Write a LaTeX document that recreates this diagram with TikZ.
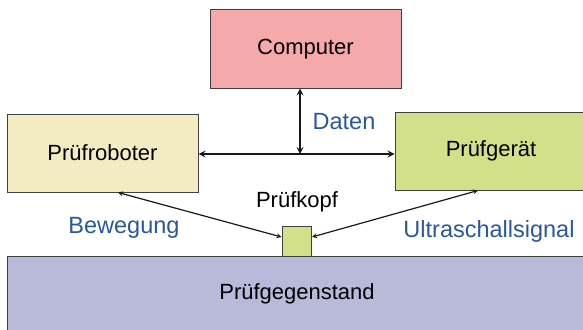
\documentclass[tikz,border=0pt]{standalone}
\usepackage{fontspec}
\setmainfont{Liberation Sans}
\usetikzlibrary{arrows,positioning}
\definecolor{compfill}{HTML}{F5A9AB}
\definecolor{robofill}{HTML}{F3ECC2}
\definecolor{greenfill}{HTML}{D3E08A}
\definecolor{objfill}{HTML}{B9B9DA}
\definecolor{edgegray}{HTML}{404040}
\definecolor{labelblue}{HTML}{2A58A0}
\begin{document}
\begin{tikzpicture}[
    x=1pt,y=-1pt,
    box/.style={rectangle,draw=edgegray,line width=1pt,align=center,inner sep=0pt,font=\fontsize{22}{26}\selectfont},
    lbl/.style={text=labelblue,inner sep=0pt,font=\fontsize{23.5}{28}\selectfont},
    arrow/.style={line width=2pt,<->,>=stealth,draw=black!90},
    thinarrow/.style={line width=1.2pt,<->,>=stealth,draw=black!90}
]
    \clip (0,0) rectangle (583,329);
    \fill[white] (0,0) rectangle (583,329);

    \node[box,fill=compfill,minimum width=191pt,minimum height=78pt] (computer) at (305.5,49) {Computer};
    \node[box,fill=robofill,minimum width=191pt,minimum height=78pt] (roboter) at (102.5,153) {Prüfroboter};
    \node[box,fill=greenfill,minimum width=192pt,minimum height=78pt] (geraet) at (491,151) {Prüfgerät};
    \node[box,fill=objfill,minimum width=580pt,minimum height=76pt] (objekt) at (297,294) {Prüfgegenstand};
    \node[box,fill=greenfill,minimum width=29.5pt,minimum height=30pt] (kopf) at (296.75,241) {};
    \node[box,draw=none] (kopflabel) at (297,202) {Prüfkopf};

    \node[lbl] (daten) at (344,122) {Daten};
    \node[lbl] (bewegung) at (124,228) {Bewegung};
    \node[lbl] (ultraschall) at (489,231) {Ultraschallsignal};

    \coordinate (hub) at (300,154);
    \draw[arrow] (roboter.east |- hub) -- (geraet.west |- hub);
    \draw[arrow] (computer.south -| hub) -- (hub);
    \draw[thinarrow] ([xshift=15.5pt]roboter.south) -- ([yshift=4pt]kopf.west);
    \draw[thinarrow] ([xshift=-13pt]geraet.south) -- ([yshift=4pt]kopf.east);
\end{tikzpicture}
\end{document}
